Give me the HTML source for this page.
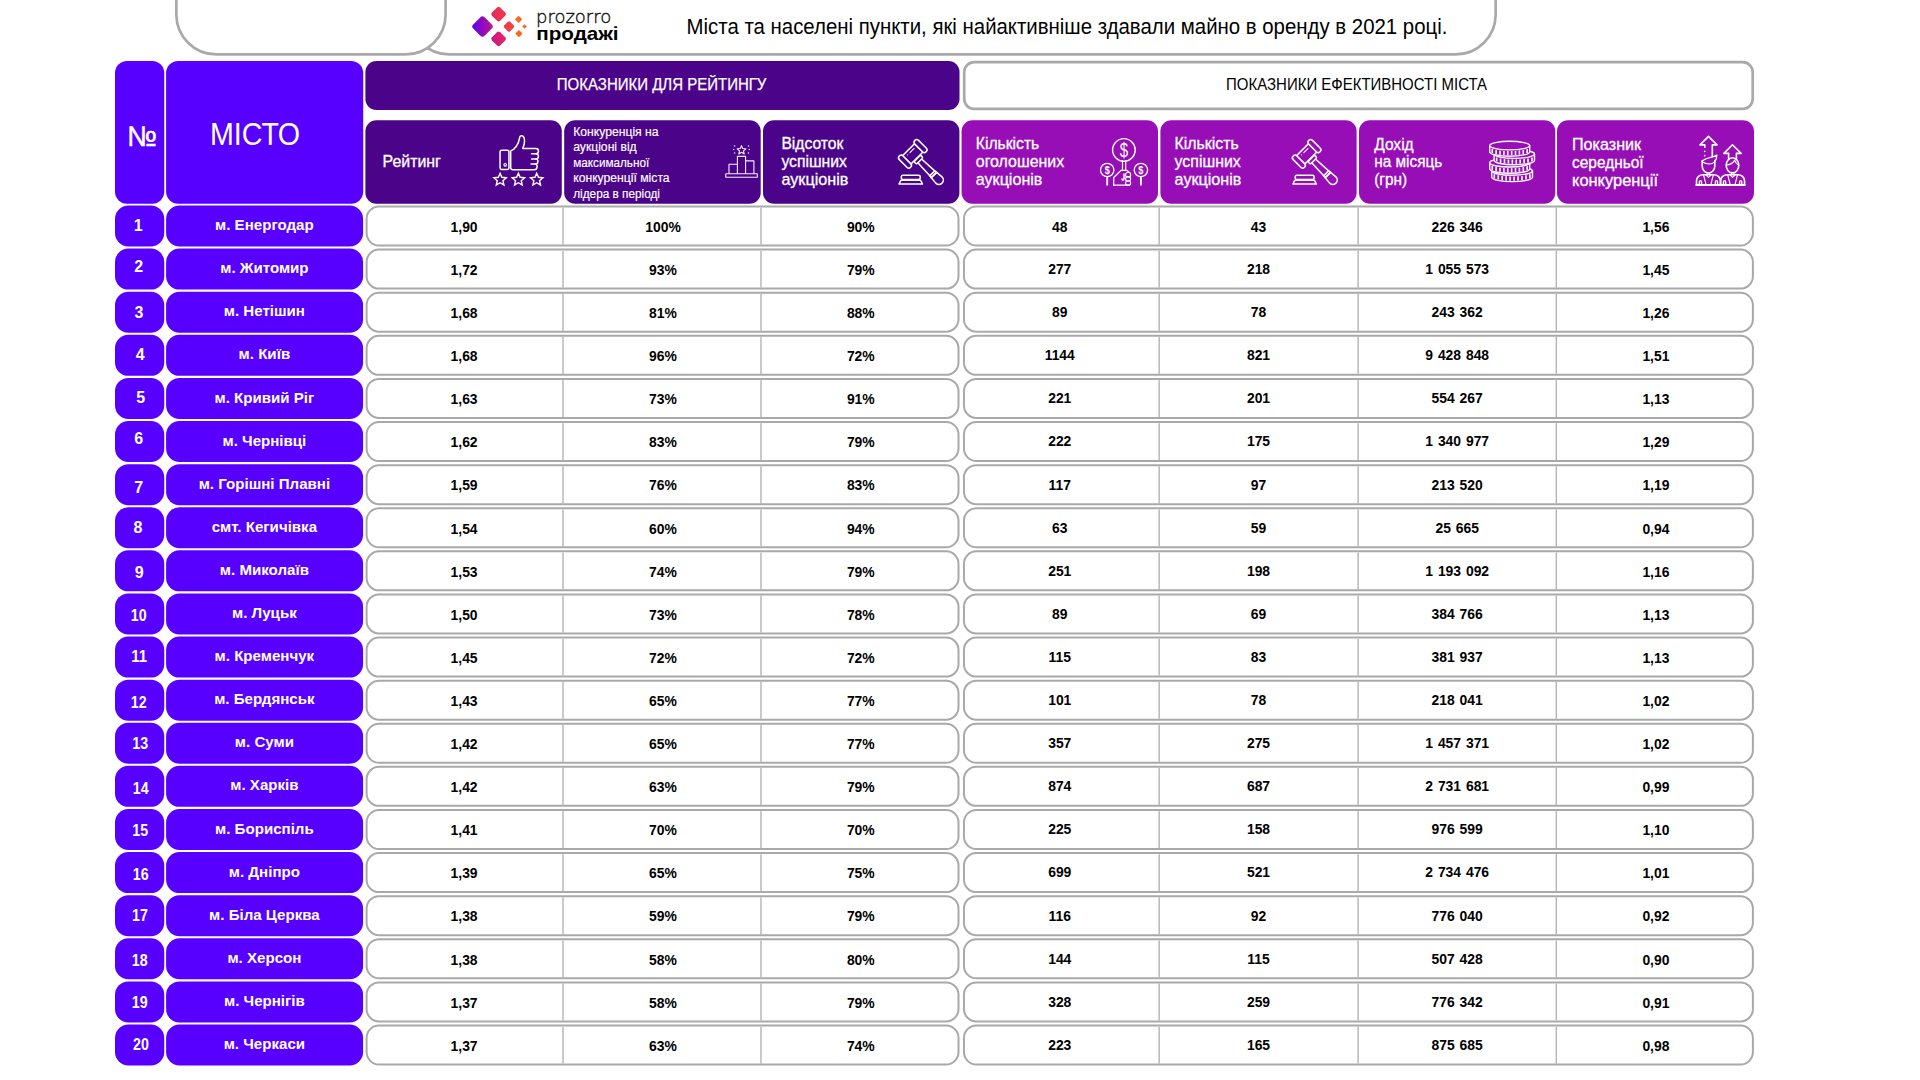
<!DOCTYPE html>
<html lang="uk"><head><meta charset="utf-8"><title>Prozorro</title>
<style>html,body{margin:0;padding:0;background:#fff;}body{width:1920px;height:1080px;overflow:hidden;position:relative}svg{position:absolute;left:0;top:0;display:block}text{white-space:pre}</style></head><body>
<svg width="1920" height="1080" viewBox="0 0 1920 1080">
<defs>
<linearGradient id="g1" x1="0" y1="1" x2="1" y2="0"><stop offset="0" stop-color="#5b00f0"/><stop offset="1" stop-color="#c4168c"/></linearGradient>
<linearGradient id="g2" x1="0" y1="1" x2="1" y2="0"><stop offset="0" stop-color="#e6255f"/><stop offset="1" stop-color="#f03c48"/></linearGradient>
<linearGradient id="g3" x1="0" y1="1" x2="1" y2="0"><stop offset="0" stop-color="#c4168c"/><stop offset="1" stop-color="#ea2a5a"/></linearGradient>
<linearGradient id="g4" x1="0" y1="1" x2="1" y2="0"><stop offset="0" stop-color="#ee3350"/><stop offset="1" stop-color="#f24a36"/></linearGradient>
</defs>
<rect x="409.4" y="-80" width="1086.25" height="134.45" rx="40" fill="#fff" stroke="#a9a9a9" stroke-width="2.7"/>
<rect x="176.35" y="-80" width="269.25" height="134.45" rx="40" fill="#fff" stroke="#a9a9a9" stroke-width="2.7"/>
<g id="logo">
<rect x="-8.06" y="-8.06" width="16.12" height="16.12" rx="3" fill="url(#g1)" transform="translate(482.5,26.5) rotate(45)"/>
<rect x="-5.80" y="-5.80" width="11.60" height="11.60" rx="2.2" fill="url(#g2)" transform="translate(498.6,14.1) rotate(45)"/>
<rect x="-5.80" y="-5.80" width="11.60" height="11.60" rx="2.2" fill="url(#g3)" transform="translate(498.6,38.9) rotate(45)"/>
<rect x="-4.10" y="-4.10" width="8.20" height="8.20" rx="1.6" fill="url(#g4)" transform="translate(509.0,26.5) rotate(45)"/>
<rect x="-2.62" y="-2.62" width="5.23" height="5.23" rx="0.8" fill="#f7691d" transform="translate(518.6,19.4) rotate(45)"/>
<rect x="-2.62" y="-2.62" width="5.23" height="5.23" rx="0.8" fill="#f7691d" transform="translate(518.9,33.6) rotate(45)"/>
<rect x="-1.70" y="-1.70" width="3.39" height="3.39" rx="0.5" fill="#f7691d" transform="translate(524.5,26.5) rotate(45)"/>
</g>
<text x="536.00" y="23.00" font-family="'DejaVu Sans Light', 'DejaVu Sans', sans-serif" font-size="18.2" font-weight="normal" fill="#111" text-anchor="start" textLength="75.20" lengthAdjust="spacingAndGlyphs" stroke="#111" stroke-width="0.4">prozorro</text>
<text x="536.30" y="39.90" font-family="'Liberation Sans', sans-serif" font-size="18.5" font-weight="bold" fill="#000" text-anchor="start" textLength="82.30" lengthAdjust="spacingAndGlyphs">продажі</text>
<text x="686.60" y="33.90" font-family="'Liberation Sans', sans-serif" font-size="21.4" font-weight="normal" fill="#000" text-anchor="start" textLength="760.80" lengthAdjust="spacingAndGlyphs">Міста та населені пункти, які найактивніше здавали майно в оренду в 2021 році.</text>
<rect x="115.00" y="61.00" width="49.25" height="142.75" rx="12" fill="#5800ff"/>
<rect x="166.10" y="61.00" width="197.10" height="142.75" rx="12" fill="#5800ff"/>
<text x="141.90" y="146.00" font-family="'Liberation Sans', sans-serif" font-size="28.5" font-weight="normal" fill="#fff" text-anchor="middle" textLength="29.80" lengthAdjust="spacingAndGlyphs" stroke="#fff" stroke-width="0.5">№</text>
<text x="255.00" y="144.70" font-family="'Liberation Sans', sans-serif" font-size="31.5" font-weight="normal" fill="#fff" text-anchor="middle" textLength="90.00" lengthAdjust="spacingAndGlyphs">МІСТО</text>
<rect x="365.40" y="61.00" width="594.10" height="49.00" rx="11" fill="#4b0489"/>
<text x="661.60" y="89.70" font-family="'Liberation Sans', sans-serif" font-size="16.6" font-weight="normal" fill="#fff" text-anchor="middle" textLength="209.60" lengthAdjust="spacingAndGlyphs" stroke="#fff" stroke-width="0.25">ПОКАЗНИКИ ДЛЯ РЕЙТИНГУ</text>
<rect x="964.20" y="62.20" width="788.50" height="46.70" rx="10" fill="#fff" stroke="#a9a9a9" stroke-width="2.7"/>
<text x="1356.60" y="89.90" font-family="'Liberation Sans', sans-serif" font-size="16.6" font-weight="normal" fill="#000" text-anchor="middle" textLength="261.00" lengthAdjust="spacingAndGlyphs">ПОКАЗНИКИ ЕФЕКТИВНОСТІ МІСТА</text>
<rect x="365.40" y="120.20" width="196.40" height="83.55" rx="11" fill="#4b0489"/>
<rect x="564.20" y="120.20" width="196.50" height="83.55" rx="11" fill="#4b0489"/>
<rect x="763.00" y="120.20" width="196.40" height="83.55" rx="11" fill="#4b0489"/>
<rect x="961.60" y="120.20" width="196.40" height="83.55" rx="11" fill="#970db6"/>
<rect x="1160.40" y="120.20" width="196.20" height="83.55" rx="11" fill="#970db6"/>
<rect x="1359.00" y="120.20" width="196.30" height="83.55" rx="11" fill="#970db6"/>
<rect x="1557.00" y="120.20" width="197.00" height="83.55" rx="11" fill="#970db6"/>
<text x="382.60" y="166.70" font-family="'Liberation Sans', sans-serif" font-size="16.3" font-weight="normal" fill="#fff" text-anchor="start" textLength="58.30" lengthAdjust="spacingAndGlyphs" stroke="#fff" stroke-width="0.3">Рейтинг</text>
<text x="573.20" y="135.90" font-family="'Liberation Sans', sans-serif" font-size="12.3" font-weight="normal" fill="#fff" text-anchor="start" textLength="85.40" lengthAdjust="spacingAndGlyphs" stroke="#fff" stroke-width="0.15">Конкуренція на</text>
<text x="573.20" y="151.40" font-family="'Liberation Sans', sans-serif" font-size="12.3" font-weight="normal" fill="#fff" text-anchor="start" textLength="63.50" lengthAdjust="spacingAndGlyphs" stroke="#fff" stroke-width="0.15">аукціоні від</text>
<text x="573.20" y="166.90" font-family="'Liberation Sans', sans-serif" font-size="12.3" font-weight="normal" fill="#fff" text-anchor="start" textLength="76.00" lengthAdjust="spacingAndGlyphs" stroke="#fff" stroke-width="0.15">максимальної</text>
<text x="573.20" y="182.40" font-family="'Liberation Sans', sans-serif" font-size="12.3" font-weight="normal" fill="#fff" text-anchor="start" textLength="96.40" lengthAdjust="spacingAndGlyphs" stroke="#fff" stroke-width="0.15">конкуренції міста</text>
<text x="573.20" y="197.90" font-family="'Liberation Sans', sans-serif" font-size="12.3" font-weight="normal" fill="#fff" text-anchor="start" textLength="86.80" lengthAdjust="spacingAndGlyphs" stroke="#fff" stroke-width="0.15">лідера в періоді</text>
<text x="781.40" y="148.50" font-family="'Liberation Sans', sans-serif" font-size="16.3" font-weight="normal" fill="#fff" text-anchor="start" textLength="62.00" lengthAdjust="spacingAndGlyphs" stroke="#fff" stroke-width="0.3">Відсоток</text>
<text x="781.40" y="166.60" font-family="'Liberation Sans', sans-serif" font-size="16.3" font-weight="normal" fill="#fff" text-anchor="start" textLength="65.60" lengthAdjust="spacingAndGlyphs" stroke="#fff" stroke-width="0.3">успішних</text>
<text x="781.40" y="184.60" font-family="'Liberation Sans', sans-serif" font-size="16.3" font-weight="normal" fill="#fff" text-anchor="start" textLength="67.00" lengthAdjust="spacingAndGlyphs" stroke="#fff" stroke-width="0.3">аукціонів</text>
<text x="975.80" y="148.50" font-family="'Liberation Sans', sans-serif" font-size="16.3" font-weight="normal" fill="#fff" text-anchor="start" textLength="63.50" lengthAdjust="spacingAndGlyphs" stroke="#fff" stroke-width="0.3">Кількість</text>
<text x="975.80" y="166.60" font-family="'Liberation Sans', sans-serif" font-size="16.3" font-weight="normal" fill="#fff" text-anchor="start" textLength="88.30" lengthAdjust="spacingAndGlyphs" stroke="#fff" stroke-width="0.3">оголошених</text>
<text x="975.80" y="184.60" font-family="'Liberation Sans', sans-serif" font-size="16.3" font-weight="normal" fill="#fff" text-anchor="start" textLength="66.60" lengthAdjust="spacingAndGlyphs" stroke="#fff" stroke-width="0.3">аукціонів</text>
<text x="1174.60" y="148.50" font-family="'Liberation Sans', sans-serif" font-size="16.3" font-weight="normal" fill="#fff" text-anchor="start" textLength="64.10" lengthAdjust="spacingAndGlyphs" stroke="#fff" stroke-width="0.3">Кількість</text>
<text x="1174.60" y="166.60" font-family="'Liberation Sans', sans-serif" font-size="16.3" font-weight="normal" fill="#fff" text-anchor="start" textLength="66.20" lengthAdjust="spacingAndGlyphs" stroke="#fff" stroke-width="0.3">успішних</text>
<text x="1174.60" y="184.60" font-family="'Liberation Sans', sans-serif" font-size="16.3" font-weight="normal" fill="#fff" text-anchor="start" textLength="66.80" lengthAdjust="spacingAndGlyphs" stroke="#fff" stroke-width="0.3">аукціонів</text>
<text x="1374.20" y="149.60" font-family="'Liberation Sans', sans-serif" font-size="16.3" font-weight="normal" fill="#fff" text-anchor="start" textLength="39.50" lengthAdjust="spacingAndGlyphs" stroke="#fff" stroke-width="0.3">Дохід</text>
<text x="1374.20" y="167.40" font-family="'Liberation Sans', sans-serif" font-size="16.3" font-weight="normal" fill="#fff" text-anchor="start" textLength="68.10" lengthAdjust="spacingAndGlyphs" stroke="#fff" stroke-width="0.3">на місяць</text>
<text x="1374.20" y="185.20" font-family="'Liberation Sans', sans-serif" font-size="16.3" font-weight="normal" fill="#fff" text-anchor="start" textLength="32.90" lengthAdjust="spacingAndGlyphs" stroke="#fff" stroke-width="0.3">(грн)</text>
<text x="1572.00" y="149.70" font-family="'Liberation Sans', sans-serif" font-size="16.3" font-weight="normal" fill="#fff" text-anchor="start" textLength="69.10" lengthAdjust="spacingAndGlyphs" stroke="#fff" stroke-width="0.3">Показник</text>
<text x="1572.00" y="167.70" font-family="'Liberation Sans', sans-serif" font-size="16.3" font-weight="normal" fill="#fff" text-anchor="start" textLength="71.60" lengthAdjust="spacingAndGlyphs" stroke="#fff" stroke-width="0.3">середньої</text>
<text x="1572.00" y="185.60" font-family="'Liberation Sans', sans-serif" font-size="16.3" font-weight="normal" fill="#fff" text-anchor="start" textLength="86.00" lengthAdjust="spacingAndGlyphs" stroke="#fff" stroke-width="0.3">конкуренції</text>
<g id="ic-thumb" fill="none" stroke="#fff" stroke-width="1.5" stroke-linejoin="round" stroke-linecap="round"><rect x="500.05" y="150.25" width="8.9" height="19.2" rx="1.6"/><circle cx="505.2" cy="164.8" r="1.3" stroke-width="1.1"/><path d="M510.7 150.9 C514.6 149.4 518.6 144.6 519.4 138.6 C519.7 136 521 135.5 522 135.8 C523.7 136.3 524.6 138.6 524.5 141.5 C524.4 144.4 523.4 146.8 522.7 148.6 H535.9 C539.3 148.6 539.3 153.7 535.9 153.7 C539.3 153.7 539.3 158.9 535.9 158.9 C538.7 158.9 538.7 164.1 535.3 164.1 C537.9 164.1 537.9 169.8 534.1 169.8 H513 C511.5 169.8 510.7 169 510.7 167.8 Z"/><path d="M535.9 153.7 H531.6 M535.9 158.9 H531.6 M535.3 164.1 H531"/><polygon points="500.10,173.25 501.86,177.32 506.28,177.74 502.95,180.68 503.92,185.01 500.10,182.75 496.28,185.01 497.25,180.68 493.92,177.74 498.34,177.32" stroke-width="1.4" stroke-linejoin="miter"/><polygon points="518.40,173.25 520.16,177.32 524.58,177.74 521.25,180.68 522.22,185.01 518.40,182.75 514.58,185.01 515.55,180.68 512.22,177.74 516.64,177.32" stroke-width="1.4" stroke-linejoin="miter"/><polygon points="536.70,173.25 538.46,177.32 542.88,177.74 539.55,180.68 540.52,185.01 536.70,182.75 532.88,185.01 533.85,180.68 530.52,177.74 534.94,177.32" stroke-width="1.4" stroke-linejoin="miter"/></g>
<g id="ic-podium" fill="none" stroke="#f6f0fa" stroke-width="1.1" stroke-linejoin="round"><rect x="725.7" y="173.8" width="31.6" height="3.5" rx="0.4"/><path d="M729 173.8 V164.2 H737.4 M737.4 173.8 V156.4 H745.6 V173.8 M745.6 160.9 H753.9 V173.8"/><polygon points="741.50,145.60 742.73,148.50 745.87,148.78 743.50,150.85 744.20,153.92 741.50,152.30 738.80,153.92 739.50,150.85 737.13,148.78 740.27,148.50" stroke-width="1.1"/><g fill="#efe6f6" stroke="none"><circle cx="734.6" cy="145.9" r="0.75"/><circle cx="733.7" cy="149.6" r="0.75"/><circle cx="734.6" cy="153.1" r="0.75"/><circle cx="748.5" cy="145.9" r="0.75"/><circle cx="749.3" cy="149.6" r="0.75"/><circle cx="748.5" cy="153.1" r="0.75"/></g></g>
<g id="ic-gavel1" fill="none" stroke="#fff" stroke-width="1.55" stroke-linejoin="round" stroke-linecap="round"><g transform="translate(912.75,153.85) rotate(45)"><path d="M9.5 -2.6 L27.6 -3.5 L27.6 3.5 L9.5 2.6 Z"/><path d="M27.6 -3.5 L30 -3.8 L30 3.8 L27.6 3.5"/><path d="M30 -3.8 L37 -4.4 A4.4 4.4 0 0 1 37 4.4 L30 3.8 Z"/><rect x="6.4" y="-4.8" width="3.6" height="9.6" rx="1.8" fill="#4b0489"/><rect x="-5.9" y="-8.6" width="11.8" height="17.2" fill="#4b0489"/><rect x="-8" y="-13.6" width="16" height="5.2" rx="2.6" fill="#4b0489"/><rect x="-8" y="8.4" width="16" height="5.2" rx="2.6" fill="#4b0489"/><path d="M-2.8 -4.8 V1.2" stroke-width="1"/><circle cx="-2.9" cy="4.3" r="0.55" fill="#fff" stroke="none"/></g><rect x="901.30" y="175.2" width="18.9" height="4.4" rx="1.6"/><path d="M899.00 184 L900.90 180.3 H920.60 L922.50 184 Z"/></g>
<g id="ic-money" fill="none" stroke="#fff" stroke-width="1.4" stroke-linejoin="round" stroke-linecap="round"><circle cx="1123.9" cy="149.95" r="11.3"/><path d="M1122.5 161.2 V170.2 M1125.7 161.2 V170.2" stroke-width="1.2"/><circle cx="1107.2" cy="170" r="6.7" stroke-width="1.3"/><circle cx="1140.9" cy="170" r="6.7" stroke-width="1.3"/><path d="M1107.2 176.8 V185.4 M1140.9 176.8 V185.4" stroke-width="1.9" stroke-linecap="butt"/><path d="M1113.7 185.2 V177.5 L1121 170.4 H1126.4 C1127.8 170.4 1128.2 172.3 1129.6 172.5" stroke-width="1.3"/><path d="M1113.7 185.2 H1129.5" stroke-width="1.3"/><path d="M1124 174 V178.8 C1124 180.6 1122.2 180.6 1122 178.9" stroke-width="1.5"/><rect x="1125.6" y="172.5" width="5.0" height="4.30" rx="1.9" stroke-width="1.2"/><rect x="1125.6" y="176.8" width="5.0" height="4.20" rx="1.9" stroke-width="1.2"/><rect x="1125.6" y="181.0" width="5.0" height="4.20" rx="1.9" stroke-width="1.2"/></g><g id="ic-money-t" font-family="'Liberation Sans', sans-serif" fill="#fff" text-anchor="middle"><text transform="translate(1123.9,156.6) scale(0.76,1)" font-size="19.8">$</text><text transform="translate(1107.2,174.0) scale(0.85,1)" font-size="10.8" font-weight="bold">$</text><text transform="translate(1140.9,174.0) scale(0.85,1)" font-size="10.8" font-weight="bold">$</text></g>
<g id="ic-gavel2" fill="none" stroke="#fff" stroke-width="1.55" stroke-linejoin="round" stroke-linecap="round"><g transform="translate(1306.65,153.85) rotate(45)"><path d="M9.5 -2.6 L27.6 -3.5 L27.6 3.5 L9.5 2.6 Z"/><path d="M27.6 -3.5 L30 -3.8 L30 3.8 L27.6 3.5"/><path d="M30 -3.8 L37 -4.4 A4.4 4.4 0 0 1 37 4.4 L30 3.8 Z"/><rect x="6.4" y="-4.8" width="3.6" height="9.6" rx="1.8" fill="#970db6"/><rect x="-5.9" y="-8.6" width="11.8" height="17.2" fill="#970db6"/><rect x="-8" y="-13.6" width="16" height="5.2" rx="2.6" fill="#970db6"/><rect x="-8" y="8.4" width="16" height="5.2" rx="2.6" fill="#970db6"/><path d="M-2.8 -4.8 V1.2" stroke-width="1"/><circle cx="-2.9" cy="4.3" r="0.55" fill="#fff" stroke="none"/></g><rect x="1295.20" y="175.2" width="18.9" height="4.4" rx="1.6"/><path d="M1292.90 184 L1294.80 180.3 H1314.50 L1316.40 184 Z"/></g>
<g id="ic-coins" fill="#970db6" stroke="#fff" stroke-width="1.4" stroke-linejoin="round"><path d="M1491.70 171.00 V177.30 A20.4 4.3 0 0 0 1532.50 177.30 V171.00 Z"/><ellipse cx="1512.1" cy="171.0" rx="20.4" ry="4.3"/><path d="M1494.29 174.30 V178.50 M1498.25 175.36 V179.56 M1502.21 175.96 V180.16 M1506.16 176.31 V180.51 M1510.12 176.48 V180.68 M1514.08 176.48 V180.68 M1518.04 176.31 V180.51 M1521.99 175.96 V180.16 M1525.95 175.36 V179.56 M1529.91 174.30 V178.50 " fill="none" stroke-width="1.6"/><path d="M1489.70 162.70 V169.00 A20.0 4.3 0 0 0 1529.70 169.00 V162.70 Z"/><ellipse cx="1509.7" cy="162.7" rx="20.0" ry="4.3"/><path d="M1492.24 166.00 V170.20 M1496.12 167.06 V171.26 M1500.00 167.66 V171.86 M1503.88 168.01 V172.21 M1507.76 168.18 V172.38 M1511.64 168.18 V172.38 M1515.52 168.01 V172.21 M1519.40 167.66 V171.86 M1523.28 167.06 V171.26 M1527.16 166.00 V170.20 " fill="none" stroke-width="1.6"/><path d="M1494.10 154.10 V160.40 A20.2 4.3 0 0 0 1534.50 160.40 V154.10 Z"/><ellipse cx="1514.3" cy="154.1" rx="20.2" ry="4.3"/><path d="M1496.67 157.40 V161.60 M1500.58 158.46 V162.66 M1504.50 159.06 V163.26 M1508.42 159.41 V163.61 M1512.34 159.58 V163.78 M1516.26 159.58 V163.78 M1520.18 159.41 V163.61 M1524.10 159.06 V163.26 M1528.02 158.46 V162.66 M1531.93 157.40 V161.60 " fill="none" stroke-width="1.6"/><path d="M1489.70 145.60 V151.90 A20.0 4.3 0 0 0 1529.70 151.90 V145.60 Z"/><ellipse cx="1509.7" cy="145.6" rx="20.0" ry="4.3"/><path d="M1492.24 148.90 V153.10 M1496.12 149.96 V154.16 M1500.00 150.56 V154.76 M1503.88 150.91 V155.11 M1507.76 151.08 V155.28 M1511.64 151.08 V155.28 M1515.52 150.91 V155.11 M1519.40 150.56 V154.76 M1523.28 149.96 V154.16 M1527.16 148.90 V153.10 " fill="none" stroke-width="1.6"/></g>
<g id="ic-people" fill="none" stroke="#fff" stroke-width="1.6" stroke-linejoin="round" stroke-linecap="round"><path d="M1696.3 185.1 H1744.7" stroke-width="2"/><path d="M1696.50 185 V180.8 C1696.50 177 1699.60 174.7 1703.00 174.7 H1713.80 C1717.20 174.7 1720.40 177 1720.40 180.8 V185"/><path d="M1699.30 184.4 V181.9 C1699.30 180.2 1701.50 180.2 1701.50 181.9 V184.4 M1715.40 184.4 V181.9 C1715.40 180.2 1717.60 180.2 1717.60 181.9 V184.4" stroke-width="1.4"/><path d="M1703.60 175 L1706.00 184.4 M1713.30 175 L1710.90 184.4 M1706.20 175.3 L1708.45 177.4 L1710.70 175.3 M1707.30 172.6 V175 M1709.70 172.6 V175" stroke-width="1.1"/><path d="M1720.65 185 V180.8 C1720.65 177 1723.75 174.7 1727.15 174.7 H1737.95 C1741.35 174.7 1744.55 177 1744.55 180.8 V185"/><path d="M1723.45 184.4 V181.9 C1723.45 180.2 1725.65 180.2 1725.65 181.9 V184.4 M1739.55 184.4 V181.9 C1739.55 180.2 1741.75 180.2 1741.75 181.9 V184.4" stroke-width="1.4"/><path d="M1727.75 175 L1730.15 184.4 M1737.45 175 L1735.05 184.4 M1730.35 175.3 L1732.60 177.4 L1734.85 175.3 M1731.45 172.6 V175 M1733.85 172.6 V175" stroke-width="1.1"/><path d="M1702.2 160.6 V166 C1702.2 170 1705 173 1708.5 173 C1712 173 1714.8 170 1714.8 166 V160.6"/><path d="M1702.1 161.8 C1704 157.6 1712 158.2 1716.9 155 C1716.9 160.5 1713.5 164 1709.5 164 C1706.5 164 1703.8 163 1702.1 161.8 Z" stroke-width="1.2"/><path d="M1712.3 156.6 V144.9 H1717 L1708.5 136.4 L1700 144.9 H1704.8 V147.2"/><circle cx="1704.7" cy="151.3" r="0.85" fill="#fff" stroke="none"/><circle cx="1704.7" cy="155.6" r="0.85" fill="#fff" stroke="none"/><ellipse cx="1732.5" cy="165.3" rx="6.3" ry="7.6"/><path d="M1726.3 165.1 C1730 164.8 1733.2 162.6 1734.7 160.1 C1735.3 162.2 1736.9 164.2 1738.6 165.2" stroke-width="1.2"/><path d="M1728.6 159 V153.4 H1723.9 L1732.5 144.8 L1741.1 153.4 H1736.4 V159"/></g>
<rect x="115.00" y="205.50" width="49.25" height="41.00" rx="13.4" fill="#5800ff"/>
<rect x="166.10" y="205.50" width="197.00" height="41.00" rx="13.4" fill="#5800ff"/>
<rect x="366.60" y="206.50" width="591.90" height="39.00" rx="12.4" fill="#fff" stroke="#a9a9a9" stroke-width="2.0"/>
<rect x="963.95" y="206.50" width="788.95" height="39.00" rx="12.4" fill="#fff" stroke="#a9a9a9" stroke-width="2.0"/>
<rect x="562.30" y="207.70" width="1.4" height="36.90" fill="#b4b4b4"/>
<rect x="760.30" y="207.70" width="1.4" height="36.90" fill="#b4b4b4"/>
<rect x="1158.50" y="207.70" width="1.4" height="36.90" fill="#b4b4b4"/>
<rect x="1357.40" y="207.70" width="1.4" height="36.90" fill="#b4b4b4"/>
<rect x="1555.60" y="207.70" width="1.4" height="36.90" fill="#b4b4b4"/>
<text x="138.25" y="231.15" font-family="'Liberation Sans', sans-serif" font-size="16" font-weight="bold" fill="#fff" text-anchor="middle">1</text>
<text x="264.40" y="230.10" font-family="'Liberation Sans', sans-serif" font-size="15.1" font-weight="bold" fill="#fff" text-anchor="middle">м. Енергодар</text>
<text x="464.10" y="231.80" font-family="'Liberation Sans', sans-serif" font-size="13.9" font-weight="bold" fill="#000" text-anchor="middle" word-spacing="1">1,90</text>
<text x="663.00" y="231.80" font-family="'Liberation Sans', sans-serif" font-size="13.9" font-weight="bold" fill="#000" text-anchor="middle" word-spacing="1">100%</text>
<text x="860.80" y="231.80" font-family="'Liberation Sans', sans-serif" font-size="13.9" font-weight="bold" fill="#000" text-anchor="middle" word-spacing="1">90%</text>
<text x="1059.75" y="231.80" font-family="'Liberation Sans', sans-serif" font-size="13.9" font-weight="bold" fill="#000" text-anchor="middle" word-spacing="1">48</text>
<text x="1258.50" y="231.80" font-family="'Liberation Sans', sans-serif" font-size="13.9" font-weight="bold" fill="#000" text-anchor="middle" word-spacing="1">43</text>
<text x="1457.20" y="231.80" font-family="'Liberation Sans', sans-serif" font-size="13.9" font-weight="bold" fill="#000" text-anchor="middle" word-spacing="1">226 346</text>
<text x="1655.90" y="231.80" font-family="'Liberation Sans', sans-serif" font-size="13.9" font-weight="bold" fill="#000" text-anchor="middle" word-spacing="1">1,56</text>
<rect x="115.00" y="248.60" width="49.25" height="41.00" rx="13.4" fill="#5800ff"/>
<rect x="166.10" y="248.60" width="197.00" height="41.00" rx="13.4" fill="#5800ff"/>
<rect x="366.60" y="249.60" width="591.90" height="39.00" rx="12.4" fill="#fff" stroke="#a9a9a9" stroke-width="2.0"/>
<rect x="963.95" y="249.60" width="788.95" height="39.00" rx="12.4" fill="#fff" stroke="#a9a9a9" stroke-width="2.0"/>
<rect x="562.30" y="250.80" width="1.4" height="36.90" fill="#b4b4b4"/>
<rect x="760.30" y="250.80" width="1.4" height="36.90" fill="#b4b4b4"/>
<rect x="1158.50" y="250.80" width="1.4" height="36.90" fill="#b4b4b4"/>
<rect x="1357.40" y="250.80" width="1.4" height="36.90" fill="#b4b4b4"/>
<rect x="1555.60" y="250.80" width="1.4" height="36.90" fill="#b4b4b4"/>
<text x="138.75" y="272.16" font-family="'Liberation Sans', sans-serif" font-size="16" font-weight="bold" fill="#fff" text-anchor="middle">2</text>
<text x="264.40" y="273.21" font-family="'Liberation Sans', sans-serif" font-size="15.1" font-weight="bold" fill="#fff" text-anchor="middle">м. Житомир</text>
<text x="464.10" y="274.90" font-family="'Liberation Sans', sans-serif" font-size="13.9" font-weight="bold" fill="#000" text-anchor="middle" word-spacing="1">1,72</text>
<text x="663.00" y="274.90" font-family="'Liberation Sans', sans-serif" font-size="13.9" font-weight="bold" fill="#000" text-anchor="middle" word-spacing="1">93%</text>
<text x="860.80" y="274.90" font-family="'Liberation Sans', sans-serif" font-size="13.9" font-weight="bold" fill="#000" text-anchor="middle" word-spacing="1">79%</text>
<text x="1059.75" y="274.00" font-family="'Liberation Sans', sans-serif" font-size="13.9" font-weight="bold" fill="#000" text-anchor="middle" word-spacing="1">277</text>
<text x="1258.50" y="274.00" font-family="'Liberation Sans', sans-serif" font-size="13.9" font-weight="bold" fill="#000" text-anchor="middle" word-spacing="1">218</text>
<text x="1457.20" y="274.00" font-family="'Liberation Sans', sans-serif" font-size="13.9" font-weight="bold" fill="#000" text-anchor="middle" word-spacing="1">1 055 573</text>
<text x="1655.90" y="274.90" font-family="'Liberation Sans', sans-serif" font-size="13.9" font-weight="bold" fill="#000" text-anchor="middle" word-spacing="1">1,45</text>
<rect x="115.00" y="291.71" width="49.25" height="41.00" rx="13.4" fill="#5800ff"/>
<rect x="166.10" y="291.71" width="197.00" height="41.00" rx="13.4" fill="#5800ff"/>
<rect x="366.60" y="292.71" width="591.90" height="39.00" rx="12.4" fill="#fff" stroke="#a9a9a9" stroke-width="2.0"/>
<rect x="963.95" y="292.71" width="788.95" height="39.00" rx="12.4" fill="#fff" stroke="#a9a9a9" stroke-width="2.0"/>
<rect x="562.30" y="293.91" width="1.4" height="36.90" fill="#b4b4b4"/>
<rect x="760.30" y="293.91" width="1.4" height="36.90" fill="#b4b4b4"/>
<rect x="1158.50" y="293.91" width="1.4" height="36.90" fill="#b4b4b4"/>
<rect x="1357.40" y="293.91" width="1.4" height="36.90" fill="#b4b4b4"/>
<rect x="1555.60" y="293.91" width="1.4" height="36.90" fill="#b4b4b4"/>
<text x="139.00" y="317.66" font-family="'Liberation Sans', sans-serif" font-size="16" font-weight="bold" fill="#fff" text-anchor="middle">3</text>
<text x="264.40" y="316.31" font-family="'Liberation Sans', sans-serif" font-size="15.1" font-weight="bold" fill="#fff" text-anchor="middle">м. Нетішин</text>
<text x="464.10" y="318.01" font-family="'Liberation Sans', sans-serif" font-size="13.9" font-weight="bold" fill="#000" text-anchor="middle" word-spacing="1">1,68</text>
<text x="663.00" y="318.01" font-family="'Liberation Sans', sans-serif" font-size="13.9" font-weight="bold" fill="#000" text-anchor="middle" word-spacing="1">81%</text>
<text x="860.80" y="318.01" font-family="'Liberation Sans', sans-serif" font-size="13.9" font-weight="bold" fill="#000" text-anchor="middle" word-spacing="1">88%</text>
<text x="1059.75" y="317.11" font-family="'Liberation Sans', sans-serif" font-size="13.9" font-weight="bold" fill="#000" text-anchor="middle" word-spacing="1">89</text>
<text x="1258.50" y="317.11" font-family="'Liberation Sans', sans-serif" font-size="13.9" font-weight="bold" fill="#000" text-anchor="middle" word-spacing="1">78</text>
<text x="1457.20" y="317.11" font-family="'Liberation Sans', sans-serif" font-size="13.9" font-weight="bold" fill="#000" text-anchor="middle" word-spacing="1">243 362</text>
<text x="1655.90" y="318.01" font-family="'Liberation Sans', sans-serif" font-size="13.9" font-weight="bold" fill="#000" text-anchor="middle" word-spacing="1">1,26</text>
<rect x="115.00" y="334.81" width="49.25" height="41.00" rx="13.4" fill="#5800ff"/>
<rect x="166.10" y="334.81" width="197.00" height="41.00" rx="13.4" fill="#5800ff"/>
<rect x="366.60" y="335.81" width="591.90" height="39.00" rx="12.4" fill="#fff" stroke="#a9a9a9" stroke-width="2.0"/>
<rect x="963.95" y="335.81" width="788.95" height="39.00" rx="12.4" fill="#fff" stroke="#a9a9a9" stroke-width="2.0"/>
<rect x="562.30" y="337.01" width="1.4" height="36.90" fill="#b4b4b4"/>
<rect x="760.30" y="337.01" width="1.4" height="36.90" fill="#b4b4b4"/>
<rect x="1158.50" y="337.01" width="1.4" height="36.90" fill="#b4b4b4"/>
<rect x="1357.40" y="337.01" width="1.4" height="36.90" fill="#b4b4b4"/>
<rect x="1555.60" y="337.01" width="1.4" height="36.90" fill="#b4b4b4"/>
<text x="140.25" y="360.17" font-family="'Liberation Sans', sans-serif" font-size="16" font-weight="bold" fill="#fff" text-anchor="middle">4</text>
<text x="264.40" y="359.42" font-family="'Liberation Sans', sans-serif" font-size="15.1" font-weight="bold" fill="#fff" text-anchor="middle">м. Київ</text>
<text x="464.10" y="361.11" font-family="'Liberation Sans', sans-serif" font-size="13.9" font-weight="bold" fill="#000" text-anchor="middle" word-spacing="1">1,68</text>
<text x="663.00" y="361.11" font-family="'Liberation Sans', sans-serif" font-size="13.9" font-weight="bold" fill="#000" text-anchor="middle" word-spacing="1">96%</text>
<text x="860.80" y="361.11" font-family="'Liberation Sans', sans-serif" font-size="13.9" font-weight="bold" fill="#000" text-anchor="middle" word-spacing="1">72%</text>
<text x="1059.75" y="360.21" font-family="'Liberation Sans', sans-serif" font-size="13.9" font-weight="bold" fill="#000" text-anchor="middle" word-spacing="1">1144</text>
<text x="1258.50" y="360.21" font-family="'Liberation Sans', sans-serif" font-size="13.9" font-weight="bold" fill="#000" text-anchor="middle" word-spacing="1">821</text>
<text x="1457.20" y="360.21" font-family="'Liberation Sans', sans-serif" font-size="13.9" font-weight="bold" fill="#000" text-anchor="middle" word-spacing="1">9 428 848</text>
<text x="1655.90" y="361.11" font-family="'Liberation Sans', sans-serif" font-size="13.9" font-weight="bold" fill="#000" text-anchor="middle" word-spacing="1">1,51</text>
<rect x="115.00" y="377.92" width="49.25" height="41.00" rx="13.4" fill="#5800ff"/>
<rect x="166.10" y="377.92" width="197.00" height="41.00" rx="13.4" fill="#5800ff"/>
<rect x="366.60" y="378.92" width="591.90" height="39.00" rx="12.4" fill="#fff" stroke="#a9a9a9" stroke-width="2.0"/>
<rect x="963.95" y="378.92" width="788.95" height="39.00" rx="12.4" fill="#fff" stroke="#a9a9a9" stroke-width="2.0"/>
<rect x="562.30" y="380.12" width="1.4" height="36.90" fill="#b4b4b4"/>
<rect x="760.30" y="380.12" width="1.4" height="36.90" fill="#b4b4b4"/>
<rect x="1158.50" y="380.12" width="1.4" height="36.90" fill="#b4b4b4"/>
<rect x="1357.40" y="380.12" width="1.4" height="36.90" fill="#b4b4b4"/>
<rect x="1555.60" y="380.12" width="1.4" height="36.90" fill="#b4b4b4"/>
<text x="140.75" y="402.67" font-family="'Liberation Sans', sans-serif" font-size="16" font-weight="bold" fill="#fff" text-anchor="middle">5</text>
<text x="264.40" y="402.52" font-family="'Liberation Sans', sans-serif" font-size="15.1" font-weight="bold" fill="#fff" text-anchor="middle">м. Кривий Ріг</text>
<text x="464.10" y="404.22" font-family="'Liberation Sans', sans-serif" font-size="13.9" font-weight="bold" fill="#000" text-anchor="middle" word-spacing="1">1,63</text>
<text x="663.00" y="404.22" font-family="'Liberation Sans', sans-serif" font-size="13.9" font-weight="bold" fill="#000" text-anchor="middle" word-spacing="1">73%</text>
<text x="860.80" y="404.22" font-family="'Liberation Sans', sans-serif" font-size="13.9" font-weight="bold" fill="#000" text-anchor="middle" word-spacing="1">91%</text>
<text x="1059.75" y="403.32" font-family="'Liberation Sans', sans-serif" font-size="13.9" font-weight="bold" fill="#000" text-anchor="middle" word-spacing="1">221</text>
<text x="1258.50" y="403.32" font-family="'Liberation Sans', sans-serif" font-size="13.9" font-weight="bold" fill="#000" text-anchor="middle" word-spacing="1">201</text>
<text x="1457.20" y="403.32" font-family="'Liberation Sans', sans-serif" font-size="13.9" font-weight="bold" fill="#000" text-anchor="middle" word-spacing="1">554 267</text>
<text x="1655.90" y="404.22" font-family="'Liberation Sans', sans-serif" font-size="13.9" font-weight="bold" fill="#000" text-anchor="middle" word-spacing="1">1,13</text>
<rect x="115.00" y="421.02" width="49.25" height="41.00" rx="13.4" fill="#5800ff"/>
<rect x="166.10" y="421.02" width="197.00" height="41.00" rx="13.4" fill="#5800ff"/>
<rect x="366.60" y="422.02" width="591.90" height="39.00" rx="12.4" fill="#fff" stroke="#a9a9a9" stroke-width="2.0"/>
<rect x="963.95" y="422.02" width="788.95" height="39.00" rx="12.4" fill="#fff" stroke="#a9a9a9" stroke-width="2.0"/>
<rect x="562.30" y="423.22" width="1.4" height="36.90" fill="#b4b4b4"/>
<rect x="760.30" y="423.22" width="1.4" height="36.90" fill="#b4b4b4"/>
<rect x="1158.50" y="423.22" width="1.4" height="36.90" fill="#b4b4b4"/>
<rect x="1357.40" y="423.22" width="1.4" height="36.90" fill="#b4b4b4"/>
<rect x="1555.60" y="423.22" width="1.4" height="36.90" fill="#b4b4b4"/>
<text x="138.75" y="443.88" font-family="'Liberation Sans', sans-serif" font-size="16" font-weight="bold" fill="#fff" text-anchor="middle">6</text>
<text x="264.40" y="445.62" font-family="'Liberation Sans', sans-serif" font-size="15.1" font-weight="bold" fill="#fff" text-anchor="middle">м. Чернівці</text>
<text x="464.10" y="447.32" font-family="'Liberation Sans', sans-serif" font-size="13.9" font-weight="bold" fill="#000" text-anchor="middle" word-spacing="1">1,62</text>
<text x="663.00" y="447.32" font-family="'Liberation Sans', sans-serif" font-size="13.9" font-weight="bold" fill="#000" text-anchor="middle" word-spacing="1">83%</text>
<text x="860.80" y="447.32" font-family="'Liberation Sans', sans-serif" font-size="13.9" font-weight="bold" fill="#000" text-anchor="middle" word-spacing="1">79%</text>
<text x="1059.75" y="446.42" font-family="'Liberation Sans', sans-serif" font-size="13.9" font-weight="bold" fill="#000" text-anchor="middle" word-spacing="1">222</text>
<text x="1258.50" y="446.42" font-family="'Liberation Sans', sans-serif" font-size="13.9" font-weight="bold" fill="#000" text-anchor="middle" word-spacing="1">175</text>
<text x="1457.20" y="446.42" font-family="'Liberation Sans', sans-serif" font-size="13.9" font-weight="bold" fill="#000" text-anchor="middle" word-spacing="1">1 340 977</text>
<text x="1655.90" y="447.32" font-family="'Liberation Sans', sans-serif" font-size="13.9" font-weight="bold" fill="#000" text-anchor="middle" word-spacing="1">1,29</text>
<rect x="115.00" y="464.13" width="49.25" height="41.00" rx="13.4" fill="#5800ff"/>
<rect x="166.10" y="464.13" width="197.00" height="41.00" rx="13.4" fill="#5800ff"/>
<rect x="366.60" y="465.13" width="591.90" height="39.00" rx="12.4" fill="#fff" stroke="#a9a9a9" stroke-width="2.0"/>
<rect x="963.95" y="465.13" width="788.95" height="39.00" rx="12.4" fill="#fff" stroke="#a9a9a9" stroke-width="2.0"/>
<rect x="562.30" y="466.33" width="1.4" height="36.90" fill="#b4b4b4"/>
<rect x="760.30" y="466.33" width="1.4" height="36.90" fill="#b4b4b4"/>
<rect x="1158.50" y="466.33" width="1.4" height="36.90" fill="#b4b4b4"/>
<rect x="1357.40" y="466.33" width="1.4" height="36.90" fill="#b4b4b4"/>
<rect x="1555.60" y="466.33" width="1.4" height="36.90" fill="#b4b4b4"/>
<text x="138.75" y="492.68" font-family="'Liberation Sans', sans-serif" font-size="16" font-weight="bold" fill="#fff" text-anchor="middle">7</text>
<text x="264.40" y="488.73" font-family="'Liberation Sans', sans-serif" font-size="15.1" font-weight="bold" fill="#fff" text-anchor="middle">м. Горішні Плавні</text>
<text x="464.10" y="490.43" font-family="'Liberation Sans', sans-serif" font-size="13.9" font-weight="bold" fill="#000" text-anchor="middle" word-spacing="1">1,59</text>
<text x="663.00" y="490.43" font-family="'Liberation Sans', sans-serif" font-size="13.9" font-weight="bold" fill="#000" text-anchor="middle" word-spacing="1">76%</text>
<text x="860.80" y="490.43" font-family="'Liberation Sans', sans-serif" font-size="13.9" font-weight="bold" fill="#000" text-anchor="middle" word-spacing="1">83%</text>
<text x="1059.75" y="489.53" font-family="'Liberation Sans', sans-serif" font-size="13.9" font-weight="bold" fill="#000" text-anchor="middle" word-spacing="1">117</text>
<text x="1258.50" y="489.53" font-family="'Liberation Sans', sans-serif" font-size="13.9" font-weight="bold" fill="#000" text-anchor="middle" word-spacing="1">97</text>
<text x="1457.20" y="489.53" font-family="'Liberation Sans', sans-serif" font-size="13.9" font-weight="bold" fill="#000" text-anchor="middle" word-spacing="1">213 520</text>
<text x="1655.90" y="490.43" font-family="'Liberation Sans', sans-serif" font-size="13.9" font-weight="bold" fill="#000" text-anchor="middle" word-spacing="1">1,19</text>
<rect x="115.00" y="507.23" width="49.25" height="41.00" rx="13.4" fill="#5800ff"/>
<rect x="166.10" y="507.23" width="197.00" height="41.00" rx="13.4" fill="#5800ff"/>
<rect x="366.60" y="508.23" width="591.90" height="39.00" rx="12.4" fill="#fff" stroke="#a9a9a9" stroke-width="2.0"/>
<rect x="963.95" y="508.23" width="788.95" height="39.00" rx="12.4" fill="#fff" stroke="#a9a9a9" stroke-width="2.0"/>
<rect x="562.30" y="509.43" width="1.4" height="36.90" fill="#b4b4b4"/>
<rect x="760.30" y="509.43" width="1.4" height="36.90" fill="#b4b4b4"/>
<rect x="1158.50" y="509.43" width="1.4" height="36.90" fill="#b4b4b4"/>
<rect x="1357.40" y="509.43" width="1.4" height="36.90" fill="#b4b4b4"/>
<rect x="1555.60" y="509.43" width="1.4" height="36.90" fill="#b4b4b4"/>
<text x="138.00" y="533.18" font-family="'Liberation Sans', sans-serif" font-size="16" font-weight="bold" fill="#fff" text-anchor="middle">8</text>
<text x="264.40" y="531.83" font-family="'Liberation Sans', sans-serif" font-size="15.1" font-weight="bold" fill="#fff" text-anchor="middle">смт. Кегичівка</text>
<text x="464.10" y="533.53" font-family="'Liberation Sans', sans-serif" font-size="13.9" font-weight="bold" fill="#000" text-anchor="middle" word-spacing="1">1,54</text>
<text x="663.00" y="533.53" font-family="'Liberation Sans', sans-serif" font-size="13.9" font-weight="bold" fill="#000" text-anchor="middle" word-spacing="1">60%</text>
<text x="860.80" y="533.53" font-family="'Liberation Sans', sans-serif" font-size="13.9" font-weight="bold" fill="#000" text-anchor="middle" word-spacing="1">94%</text>
<text x="1059.75" y="532.63" font-family="'Liberation Sans', sans-serif" font-size="13.9" font-weight="bold" fill="#000" text-anchor="middle" word-spacing="1">63</text>
<text x="1258.50" y="532.63" font-family="'Liberation Sans', sans-serif" font-size="13.9" font-weight="bold" fill="#000" text-anchor="middle" word-spacing="1">59</text>
<text x="1457.20" y="532.63" font-family="'Liberation Sans', sans-serif" font-size="13.9" font-weight="bold" fill="#000" text-anchor="middle" word-spacing="1">25 665</text>
<text x="1655.90" y="533.53" font-family="'Liberation Sans', sans-serif" font-size="13.9" font-weight="bold" fill="#000" text-anchor="middle" word-spacing="1">0,94</text>
<rect x="115.00" y="550.34" width="49.25" height="41.00" rx="13.4" fill="#5800ff"/>
<rect x="166.10" y="550.34" width="197.00" height="41.00" rx="13.4" fill="#5800ff"/>
<rect x="366.60" y="551.34" width="591.90" height="39.00" rx="12.4" fill="#fff" stroke="#a9a9a9" stroke-width="2.0"/>
<rect x="963.95" y="551.34" width="788.95" height="39.00" rx="12.4" fill="#fff" stroke="#a9a9a9" stroke-width="2.0"/>
<rect x="562.30" y="552.54" width="1.4" height="36.90" fill="#b4b4b4"/>
<rect x="760.30" y="552.54" width="1.4" height="36.90" fill="#b4b4b4"/>
<rect x="1158.50" y="552.54" width="1.4" height="36.90" fill="#b4b4b4"/>
<rect x="1357.40" y="552.54" width="1.4" height="36.90" fill="#b4b4b4"/>
<rect x="1555.60" y="552.54" width="1.4" height="36.90" fill="#b4b4b4"/>
<text x="139.25" y="577.69" font-family="'Liberation Sans', sans-serif" font-size="16" font-weight="bold" fill="#fff" text-anchor="middle">9</text>
<text x="264.40" y="574.94" font-family="'Liberation Sans', sans-serif" font-size="15.1" font-weight="bold" fill="#fff" text-anchor="middle">м. Миколаїв</text>
<text x="464.10" y="576.64" font-family="'Liberation Sans', sans-serif" font-size="13.9" font-weight="bold" fill="#000" text-anchor="middle" word-spacing="1">1,53</text>
<text x="663.00" y="576.64" font-family="'Liberation Sans', sans-serif" font-size="13.9" font-weight="bold" fill="#000" text-anchor="middle" word-spacing="1">74%</text>
<text x="860.80" y="576.64" font-family="'Liberation Sans', sans-serif" font-size="13.9" font-weight="bold" fill="#000" text-anchor="middle" word-spacing="1">79%</text>
<text x="1059.75" y="575.74" font-family="'Liberation Sans', sans-serif" font-size="13.9" font-weight="bold" fill="#000" text-anchor="middle" word-spacing="1">251</text>
<text x="1258.50" y="575.74" font-family="'Liberation Sans', sans-serif" font-size="13.9" font-weight="bold" fill="#000" text-anchor="middle" word-spacing="1">198</text>
<text x="1457.20" y="575.74" font-family="'Liberation Sans', sans-serif" font-size="13.9" font-weight="bold" fill="#000" text-anchor="middle" word-spacing="1">1 193 092</text>
<text x="1655.90" y="576.64" font-family="'Liberation Sans', sans-serif" font-size="13.9" font-weight="bold" fill="#000" text-anchor="middle" word-spacing="1">1,16</text>
<rect x="115.00" y="593.44" width="49.25" height="41.00" rx="13.4" fill="#5800ff"/>
<rect x="166.10" y="593.44" width="197.00" height="41.00" rx="13.4" fill="#5800ff"/>
<rect x="366.60" y="594.44" width="591.90" height="39.00" rx="12.4" fill="#fff" stroke="#a9a9a9" stroke-width="2.0"/>
<rect x="963.95" y="594.44" width="788.95" height="39.00" rx="12.4" fill="#fff" stroke="#a9a9a9" stroke-width="2.0"/>
<rect x="562.30" y="595.64" width="1.4" height="36.90" fill="#b4b4b4"/>
<rect x="760.30" y="595.64" width="1.4" height="36.90" fill="#b4b4b4"/>
<rect x="1158.50" y="595.64" width="1.4" height="36.90" fill="#b4b4b4"/>
<rect x="1357.40" y="595.64" width="1.4" height="36.90" fill="#b4b4b4"/>
<rect x="1555.60" y="595.64" width="1.4" height="36.90" fill="#b4b4b4"/>
<text x="138.75" y="620.89" font-family="'Liberation Sans', sans-serif" font-size="16" font-weight="bold" fill="#fff" text-anchor="middle" textLength="15.80" lengthAdjust="spacingAndGlyphs">10</text>
<text x="264.40" y="618.04" font-family="'Liberation Sans', sans-serif" font-size="15.1" font-weight="bold" fill="#fff" text-anchor="middle">м. Луцьк</text>
<text x="464.10" y="619.74" font-family="'Liberation Sans', sans-serif" font-size="13.9" font-weight="bold" fill="#000" text-anchor="middle" word-spacing="1">1,50</text>
<text x="663.00" y="619.74" font-family="'Liberation Sans', sans-serif" font-size="13.9" font-weight="bold" fill="#000" text-anchor="middle" word-spacing="1">73%</text>
<text x="860.80" y="619.74" font-family="'Liberation Sans', sans-serif" font-size="13.9" font-weight="bold" fill="#000" text-anchor="middle" word-spacing="1">78%</text>
<text x="1059.75" y="618.84" font-family="'Liberation Sans', sans-serif" font-size="13.9" font-weight="bold" fill="#000" text-anchor="middle" word-spacing="1">89</text>
<text x="1258.50" y="618.84" font-family="'Liberation Sans', sans-serif" font-size="13.9" font-weight="bold" fill="#000" text-anchor="middle" word-spacing="1">69</text>
<text x="1457.20" y="618.84" font-family="'Liberation Sans', sans-serif" font-size="13.9" font-weight="bold" fill="#000" text-anchor="middle" word-spacing="1">384 766</text>
<text x="1655.90" y="619.74" font-family="'Liberation Sans', sans-serif" font-size="13.9" font-weight="bold" fill="#000" text-anchor="middle" word-spacing="1">1,13</text>
<rect x="115.00" y="636.55" width="49.25" height="41.00" rx="13.4" fill="#5800ff"/>
<rect x="166.10" y="636.55" width="197.00" height="41.00" rx="13.4" fill="#5800ff"/>
<rect x="366.60" y="637.55" width="591.90" height="39.00" rx="12.4" fill="#fff" stroke="#a9a9a9" stroke-width="2.0"/>
<rect x="963.95" y="637.55" width="788.95" height="39.00" rx="12.4" fill="#fff" stroke="#a9a9a9" stroke-width="2.0"/>
<rect x="562.30" y="638.75" width="1.4" height="36.90" fill="#b4b4b4"/>
<rect x="760.30" y="638.75" width="1.4" height="36.90" fill="#b4b4b4"/>
<rect x="1158.50" y="638.75" width="1.4" height="36.90" fill="#b4b4b4"/>
<rect x="1357.40" y="638.75" width="1.4" height="36.90" fill="#b4b4b4"/>
<rect x="1555.60" y="638.75" width="1.4" height="36.90" fill="#b4b4b4"/>
<text x="139.25" y="662.20" font-family="'Liberation Sans', sans-serif" font-size="16" font-weight="bold" fill="#fff" text-anchor="middle" textLength="15.80" lengthAdjust="spacingAndGlyphs">11</text>
<text x="264.40" y="661.15" font-family="'Liberation Sans', sans-serif" font-size="15.1" font-weight="bold" fill="#fff" text-anchor="middle">м. Кременчук</text>
<text x="464.10" y="662.85" font-family="'Liberation Sans', sans-serif" font-size="13.9" font-weight="bold" fill="#000" text-anchor="middle" word-spacing="1">1,45</text>
<text x="663.00" y="662.85" font-family="'Liberation Sans', sans-serif" font-size="13.9" font-weight="bold" fill="#000" text-anchor="middle" word-spacing="1">72%</text>
<text x="860.80" y="662.85" font-family="'Liberation Sans', sans-serif" font-size="13.9" font-weight="bold" fill="#000" text-anchor="middle" word-spacing="1">72%</text>
<text x="1059.75" y="661.95" font-family="'Liberation Sans', sans-serif" font-size="13.9" font-weight="bold" fill="#000" text-anchor="middle" word-spacing="1">115</text>
<text x="1258.50" y="661.95" font-family="'Liberation Sans', sans-serif" font-size="13.9" font-weight="bold" fill="#000" text-anchor="middle" word-spacing="1">83</text>
<text x="1457.20" y="661.95" font-family="'Liberation Sans', sans-serif" font-size="13.9" font-weight="bold" fill="#000" text-anchor="middle" word-spacing="1">381 937</text>
<text x="1655.90" y="662.85" font-family="'Liberation Sans', sans-serif" font-size="13.9" font-weight="bold" fill="#000" text-anchor="middle" word-spacing="1">1,13</text>
<rect x="115.00" y="679.65" width="49.25" height="41.00" rx="13.4" fill="#5800ff"/>
<rect x="166.10" y="679.65" width="197.00" height="41.00" rx="13.4" fill="#5800ff"/>
<rect x="366.60" y="680.65" width="591.90" height="39.00" rx="12.4" fill="#fff" stroke="#a9a9a9" stroke-width="2.0"/>
<rect x="963.95" y="680.65" width="788.95" height="39.00" rx="12.4" fill="#fff" stroke="#a9a9a9" stroke-width="2.0"/>
<rect x="562.30" y="681.86" width="1.4" height="36.90" fill="#b4b4b4"/>
<rect x="760.30" y="681.86" width="1.4" height="36.90" fill="#b4b4b4"/>
<rect x="1158.50" y="681.86" width="1.4" height="36.90" fill="#b4b4b4"/>
<rect x="1357.40" y="681.86" width="1.4" height="36.90" fill="#b4b4b4"/>
<rect x="1555.60" y="681.86" width="1.4" height="36.90" fill="#b4b4b4"/>
<text x="138.75" y="708.20" font-family="'Liberation Sans', sans-serif" font-size="16" font-weight="bold" fill="#fff" text-anchor="middle" textLength="15.80" lengthAdjust="spacingAndGlyphs">12</text>
<text x="264.40" y="704.25" font-family="'Liberation Sans', sans-serif" font-size="15.1" font-weight="bold" fill="#fff" text-anchor="middle">м. Бердянськ</text>
<text x="464.10" y="705.95" font-family="'Liberation Sans', sans-serif" font-size="13.9" font-weight="bold" fill="#000" text-anchor="middle" word-spacing="1">1,43</text>
<text x="663.00" y="705.95" font-family="'Liberation Sans', sans-serif" font-size="13.9" font-weight="bold" fill="#000" text-anchor="middle" word-spacing="1">65%</text>
<text x="860.80" y="705.95" font-family="'Liberation Sans', sans-serif" font-size="13.9" font-weight="bold" fill="#000" text-anchor="middle" word-spacing="1">77%</text>
<text x="1059.75" y="705.05" font-family="'Liberation Sans', sans-serif" font-size="13.9" font-weight="bold" fill="#000" text-anchor="middle" word-spacing="1">101</text>
<text x="1258.50" y="705.05" font-family="'Liberation Sans', sans-serif" font-size="13.9" font-weight="bold" fill="#000" text-anchor="middle" word-spacing="1">78</text>
<text x="1457.20" y="705.05" font-family="'Liberation Sans', sans-serif" font-size="13.9" font-weight="bold" fill="#000" text-anchor="middle" word-spacing="1">218 041</text>
<text x="1655.90" y="705.95" font-family="'Liberation Sans', sans-serif" font-size="13.9" font-weight="bold" fill="#000" text-anchor="middle" word-spacing="1">1,02</text>
<rect x="115.00" y="722.76" width="49.25" height="41.00" rx="13.4" fill="#5800ff"/>
<rect x="166.10" y="722.76" width="197.00" height="41.00" rx="13.4" fill="#5800ff"/>
<rect x="366.60" y="723.76" width="591.90" height="39.00" rx="12.4" fill="#fff" stroke="#a9a9a9" stroke-width="2.0"/>
<rect x="963.95" y="723.76" width="788.95" height="39.00" rx="12.4" fill="#fff" stroke="#a9a9a9" stroke-width="2.0"/>
<rect x="562.30" y="724.96" width="1.4" height="36.90" fill="#b4b4b4"/>
<rect x="760.30" y="724.96" width="1.4" height="36.90" fill="#b4b4b4"/>
<rect x="1158.50" y="724.96" width="1.4" height="36.90" fill="#b4b4b4"/>
<rect x="1357.40" y="724.96" width="1.4" height="36.90" fill="#b4b4b4"/>
<rect x="1555.60" y="724.96" width="1.4" height="36.90" fill="#b4b4b4"/>
<text x="140.25" y="749.21" font-family="'Liberation Sans', sans-serif" font-size="16" font-weight="bold" fill="#fff" text-anchor="middle" textLength="15.80" lengthAdjust="spacingAndGlyphs">13</text>
<text x="264.40" y="747.36" font-family="'Liberation Sans', sans-serif" font-size="15.1" font-weight="bold" fill="#fff" text-anchor="middle">м. Суми</text>
<text x="464.10" y="749.06" font-family="'Liberation Sans', sans-serif" font-size="13.9" font-weight="bold" fill="#000" text-anchor="middle" word-spacing="1">1,42</text>
<text x="663.00" y="749.06" font-family="'Liberation Sans', sans-serif" font-size="13.9" font-weight="bold" fill="#000" text-anchor="middle" word-spacing="1">65%</text>
<text x="860.80" y="749.06" font-family="'Liberation Sans', sans-serif" font-size="13.9" font-weight="bold" fill="#000" text-anchor="middle" word-spacing="1">77%</text>
<text x="1059.75" y="748.16" font-family="'Liberation Sans', sans-serif" font-size="13.9" font-weight="bold" fill="#000" text-anchor="middle" word-spacing="1">357</text>
<text x="1258.50" y="748.16" font-family="'Liberation Sans', sans-serif" font-size="13.9" font-weight="bold" fill="#000" text-anchor="middle" word-spacing="1">275</text>
<text x="1457.20" y="748.16" font-family="'Liberation Sans', sans-serif" font-size="13.9" font-weight="bold" fill="#000" text-anchor="middle" word-spacing="1">1 457 371</text>
<text x="1655.90" y="749.06" font-family="'Liberation Sans', sans-serif" font-size="13.9" font-weight="bold" fill="#000" text-anchor="middle" word-spacing="1">1,02</text>
<rect x="115.00" y="765.87" width="49.25" height="41.00" rx="13.4" fill="#5800ff"/>
<rect x="166.10" y="765.87" width="197.00" height="41.00" rx="13.4" fill="#5800ff"/>
<rect x="366.60" y="766.87" width="591.90" height="39.00" rx="12.4" fill="#fff" stroke="#a9a9a9" stroke-width="2.0"/>
<rect x="963.95" y="766.87" width="788.95" height="39.00" rx="12.4" fill="#fff" stroke="#a9a9a9" stroke-width="2.0"/>
<rect x="562.30" y="768.07" width="1.4" height="36.90" fill="#b4b4b4"/>
<rect x="760.30" y="768.07" width="1.4" height="36.90" fill="#b4b4b4"/>
<rect x="1158.50" y="768.07" width="1.4" height="36.90" fill="#b4b4b4"/>
<rect x="1357.40" y="768.07" width="1.4" height="36.90" fill="#b4b4b4"/>
<rect x="1555.60" y="768.07" width="1.4" height="36.90" fill="#b4b4b4"/>
<text x="140.75" y="794.41" font-family="'Liberation Sans', sans-serif" font-size="16" font-weight="bold" fill="#fff" text-anchor="middle" textLength="15.80" lengthAdjust="spacingAndGlyphs">14</text>
<text x="264.40" y="790.46" font-family="'Liberation Sans', sans-serif" font-size="15.1" font-weight="bold" fill="#fff" text-anchor="middle">м. Харків</text>
<text x="464.10" y="792.16" font-family="'Liberation Sans', sans-serif" font-size="13.9" font-weight="bold" fill="#000" text-anchor="middle" word-spacing="1">1,42</text>
<text x="663.00" y="792.16" font-family="'Liberation Sans', sans-serif" font-size="13.9" font-weight="bold" fill="#000" text-anchor="middle" word-spacing="1">63%</text>
<text x="860.80" y="792.16" font-family="'Liberation Sans', sans-serif" font-size="13.9" font-weight="bold" fill="#000" text-anchor="middle" word-spacing="1">79%</text>
<text x="1059.75" y="791.26" font-family="'Liberation Sans', sans-serif" font-size="13.9" font-weight="bold" fill="#000" text-anchor="middle" word-spacing="1">874</text>
<text x="1258.50" y="791.26" font-family="'Liberation Sans', sans-serif" font-size="13.9" font-weight="bold" fill="#000" text-anchor="middle" word-spacing="1">687</text>
<text x="1457.20" y="791.26" font-family="'Liberation Sans', sans-serif" font-size="13.9" font-weight="bold" fill="#000" text-anchor="middle" word-spacing="1">2 731 681</text>
<text x="1655.90" y="792.16" font-family="'Liberation Sans', sans-serif" font-size="13.9" font-weight="bold" fill="#000" text-anchor="middle" word-spacing="1">0,99</text>
<rect x="115.00" y="808.97" width="49.25" height="41.00" rx="13.4" fill="#5800ff"/>
<rect x="166.10" y="808.97" width="197.00" height="41.00" rx="13.4" fill="#5800ff"/>
<rect x="366.60" y="809.97" width="591.90" height="39.00" rx="12.4" fill="#fff" stroke="#a9a9a9" stroke-width="2.0"/>
<rect x="963.95" y="809.97" width="788.95" height="39.00" rx="12.4" fill="#fff" stroke="#a9a9a9" stroke-width="2.0"/>
<rect x="562.30" y="811.17" width="1.4" height="36.90" fill="#b4b4b4"/>
<rect x="760.30" y="811.17" width="1.4" height="36.90" fill="#b4b4b4"/>
<rect x="1158.50" y="811.17" width="1.4" height="36.90" fill="#b4b4b4"/>
<rect x="1357.40" y="811.17" width="1.4" height="36.90" fill="#b4b4b4"/>
<rect x="1555.60" y="811.17" width="1.4" height="36.90" fill="#b4b4b4"/>
<text x="140.25" y="835.82" font-family="'Liberation Sans', sans-serif" font-size="16" font-weight="bold" fill="#fff" text-anchor="middle" textLength="15.80" lengthAdjust="spacingAndGlyphs">15</text>
<text x="264.40" y="833.57" font-family="'Liberation Sans', sans-serif" font-size="15.1" font-weight="bold" fill="#fff" text-anchor="middle">м. Бориспіль</text>
<text x="464.10" y="835.27" font-family="'Liberation Sans', sans-serif" font-size="13.9" font-weight="bold" fill="#000" text-anchor="middle" word-spacing="1">1,41</text>
<text x="663.00" y="835.27" font-family="'Liberation Sans', sans-serif" font-size="13.9" font-weight="bold" fill="#000" text-anchor="middle" word-spacing="1">70%</text>
<text x="860.80" y="835.27" font-family="'Liberation Sans', sans-serif" font-size="13.9" font-weight="bold" fill="#000" text-anchor="middle" word-spacing="1">70%</text>
<text x="1059.75" y="834.37" font-family="'Liberation Sans', sans-serif" font-size="13.9" font-weight="bold" fill="#000" text-anchor="middle" word-spacing="1">225</text>
<text x="1258.50" y="834.37" font-family="'Liberation Sans', sans-serif" font-size="13.9" font-weight="bold" fill="#000" text-anchor="middle" word-spacing="1">158</text>
<text x="1457.20" y="834.37" font-family="'Liberation Sans', sans-serif" font-size="13.9" font-weight="bold" fill="#000" text-anchor="middle" word-spacing="1">976 599</text>
<text x="1655.90" y="835.27" font-family="'Liberation Sans', sans-serif" font-size="13.9" font-weight="bold" fill="#000" text-anchor="middle" word-spacing="1">1,10</text>
<rect x="115.00" y="852.07" width="49.25" height="41.00" rx="13.4" fill="#5800ff"/>
<rect x="166.10" y="852.07" width="197.00" height="41.00" rx="13.4" fill="#5800ff"/>
<rect x="366.60" y="853.07" width="591.90" height="39.00" rx="12.4" fill="#fff" stroke="#a9a9a9" stroke-width="2.0"/>
<rect x="963.95" y="853.07" width="788.95" height="39.00" rx="12.4" fill="#fff" stroke="#a9a9a9" stroke-width="2.0"/>
<rect x="562.30" y="854.27" width="1.4" height="36.90" fill="#b4b4b4"/>
<rect x="760.30" y="854.27" width="1.4" height="36.90" fill="#b4b4b4"/>
<rect x="1158.50" y="854.27" width="1.4" height="36.90" fill="#b4b4b4"/>
<rect x="1357.40" y="854.27" width="1.4" height="36.90" fill="#b4b4b4"/>
<rect x="1555.60" y="854.27" width="1.4" height="36.90" fill="#b4b4b4"/>
<text x="140.75" y="879.62" font-family="'Liberation Sans', sans-serif" font-size="16" font-weight="bold" fill="#fff" text-anchor="middle" textLength="15.80" lengthAdjust="spacingAndGlyphs">16</text>
<text x="264.40" y="876.67" font-family="'Liberation Sans', sans-serif" font-size="15.1" font-weight="bold" fill="#fff" text-anchor="middle">м. Дніпро</text>
<text x="464.10" y="878.37" font-family="'Liberation Sans', sans-serif" font-size="13.9" font-weight="bold" fill="#000" text-anchor="middle" word-spacing="1">1,39</text>
<text x="663.00" y="878.37" font-family="'Liberation Sans', sans-serif" font-size="13.9" font-weight="bold" fill="#000" text-anchor="middle" word-spacing="1">65%</text>
<text x="860.80" y="878.37" font-family="'Liberation Sans', sans-serif" font-size="13.9" font-weight="bold" fill="#000" text-anchor="middle" word-spacing="1">75%</text>
<text x="1059.75" y="877.47" font-family="'Liberation Sans', sans-serif" font-size="13.9" font-weight="bold" fill="#000" text-anchor="middle" word-spacing="1">699</text>
<text x="1258.50" y="877.47" font-family="'Liberation Sans', sans-serif" font-size="13.9" font-weight="bold" fill="#000" text-anchor="middle" word-spacing="1">521</text>
<text x="1457.20" y="877.47" font-family="'Liberation Sans', sans-serif" font-size="13.9" font-weight="bold" fill="#000" text-anchor="middle" word-spacing="1">2 734 476</text>
<text x="1655.90" y="878.37" font-family="'Liberation Sans', sans-serif" font-size="13.9" font-weight="bold" fill="#000" text-anchor="middle" word-spacing="1">1,01</text>
<rect x="115.00" y="895.18" width="49.25" height="41.00" rx="13.4" fill="#5800ff"/>
<rect x="166.10" y="895.18" width="197.00" height="41.00" rx="13.4" fill="#5800ff"/>
<rect x="366.60" y="896.18" width="591.90" height="39.00" rx="12.4" fill="#fff" stroke="#a9a9a9" stroke-width="2.0"/>
<rect x="963.95" y="896.18" width="788.95" height="39.00" rx="12.4" fill="#fff" stroke="#a9a9a9" stroke-width="2.0"/>
<rect x="562.30" y="897.38" width="1.4" height="36.90" fill="#b4b4b4"/>
<rect x="760.30" y="897.38" width="1.4" height="36.90" fill="#b4b4b4"/>
<rect x="1158.50" y="897.38" width="1.4" height="36.90" fill="#b4b4b4"/>
<rect x="1357.40" y="897.38" width="1.4" height="36.90" fill="#b4b4b4"/>
<rect x="1555.60" y="897.38" width="1.4" height="36.90" fill="#b4b4b4"/>
<text x="140.00" y="920.83" font-family="'Liberation Sans', sans-serif" font-size="16" font-weight="bold" fill="#fff" text-anchor="middle" textLength="15.80" lengthAdjust="spacingAndGlyphs">17</text>
<text x="264.40" y="919.78" font-family="'Liberation Sans', sans-serif" font-size="15.1" font-weight="bold" fill="#fff" text-anchor="middle">м. Біла Церква</text>
<text x="464.10" y="921.48" font-family="'Liberation Sans', sans-serif" font-size="13.9" font-weight="bold" fill="#000" text-anchor="middle" word-spacing="1">1,38</text>
<text x="663.00" y="921.48" font-family="'Liberation Sans', sans-serif" font-size="13.9" font-weight="bold" fill="#000" text-anchor="middle" word-spacing="1">59%</text>
<text x="860.80" y="921.48" font-family="'Liberation Sans', sans-serif" font-size="13.9" font-weight="bold" fill="#000" text-anchor="middle" word-spacing="1">79%</text>
<text x="1059.75" y="920.58" font-family="'Liberation Sans', sans-serif" font-size="13.9" font-weight="bold" fill="#000" text-anchor="middle" word-spacing="1">116</text>
<text x="1258.50" y="920.58" font-family="'Liberation Sans', sans-serif" font-size="13.9" font-weight="bold" fill="#000" text-anchor="middle" word-spacing="1">92</text>
<text x="1457.20" y="920.58" font-family="'Liberation Sans', sans-serif" font-size="13.9" font-weight="bold" fill="#000" text-anchor="middle" word-spacing="1">776 040</text>
<text x="1655.90" y="921.48" font-family="'Liberation Sans', sans-serif" font-size="13.9" font-weight="bold" fill="#000" text-anchor="middle" word-spacing="1">0,92</text>
<rect x="115.00" y="938.28" width="49.25" height="41.00" rx="13.4" fill="#5800ff"/>
<rect x="166.10" y="938.28" width="197.00" height="41.00" rx="13.4" fill="#5800ff"/>
<rect x="366.60" y="939.28" width="591.90" height="39.00" rx="12.4" fill="#fff" stroke="#a9a9a9" stroke-width="2.0"/>
<rect x="963.95" y="939.28" width="788.95" height="39.00" rx="12.4" fill="#fff" stroke="#a9a9a9" stroke-width="2.0"/>
<rect x="562.30" y="940.49" width="1.4" height="36.90" fill="#b4b4b4"/>
<rect x="760.30" y="940.49" width="1.4" height="36.90" fill="#b4b4b4"/>
<rect x="1158.50" y="940.49" width="1.4" height="36.90" fill="#b4b4b4"/>
<rect x="1357.40" y="940.49" width="1.4" height="36.90" fill="#b4b4b4"/>
<rect x="1555.60" y="940.49" width="1.4" height="36.90" fill="#b4b4b4"/>
<text x="139.75" y="965.63" font-family="'Liberation Sans', sans-serif" font-size="16" font-weight="bold" fill="#fff" text-anchor="middle" textLength="15.80" lengthAdjust="spacingAndGlyphs">18</text>
<text x="264.40" y="962.88" font-family="'Liberation Sans', sans-serif" font-size="15.1" font-weight="bold" fill="#fff" text-anchor="middle">м. Херсон</text>
<text x="464.10" y="964.58" font-family="'Liberation Sans', sans-serif" font-size="13.9" font-weight="bold" fill="#000" text-anchor="middle" word-spacing="1">1,38</text>
<text x="663.00" y="964.58" font-family="'Liberation Sans', sans-serif" font-size="13.9" font-weight="bold" fill="#000" text-anchor="middle" word-spacing="1">58%</text>
<text x="860.80" y="964.58" font-family="'Liberation Sans', sans-serif" font-size="13.9" font-weight="bold" fill="#000" text-anchor="middle" word-spacing="1">80%</text>
<text x="1059.75" y="963.68" font-family="'Liberation Sans', sans-serif" font-size="13.9" font-weight="bold" fill="#000" text-anchor="middle" word-spacing="1">144</text>
<text x="1258.50" y="963.68" font-family="'Liberation Sans', sans-serif" font-size="13.9" font-weight="bold" fill="#000" text-anchor="middle" word-spacing="1">115</text>
<text x="1457.20" y="963.68" font-family="'Liberation Sans', sans-serif" font-size="13.9" font-weight="bold" fill="#000" text-anchor="middle" word-spacing="1">507 428</text>
<text x="1655.90" y="964.58" font-family="'Liberation Sans', sans-serif" font-size="13.9" font-weight="bold" fill="#000" text-anchor="middle" word-spacing="1">0,90</text>
<rect x="115.00" y="981.39" width="49.25" height="41.00" rx="13.4" fill="#5800ff"/>
<rect x="166.10" y="981.39" width="197.00" height="41.00" rx="13.4" fill="#5800ff"/>
<rect x="366.60" y="982.39" width="591.90" height="39.00" rx="12.4" fill="#fff" stroke="#a9a9a9" stroke-width="2.0"/>
<rect x="963.95" y="982.39" width="788.95" height="39.00" rx="12.4" fill="#fff" stroke="#a9a9a9" stroke-width="2.0"/>
<rect x="562.30" y="983.59" width="1.4" height="36.90" fill="#b4b4b4"/>
<rect x="760.30" y="983.59" width="1.4" height="36.90" fill="#b4b4b4"/>
<rect x="1158.50" y="983.59" width="1.4" height="36.90" fill="#b4b4b4"/>
<rect x="1357.40" y="983.59" width="1.4" height="36.90" fill="#b4b4b4"/>
<rect x="1555.60" y="983.59" width="1.4" height="36.90" fill="#b4b4b4"/>
<text x="139.75" y="1008.14" font-family="'Liberation Sans', sans-serif" font-size="16" font-weight="bold" fill="#fff" text-anchor="middle" textLength="15.80" lengthAdjust="spacingAndGlyphs">19</text>
<text x="264.40" y="1005.99" font-family="'Liberation Sans', sans-serif" font-size="15.1" font-weight="bold" fill="#fff" text-anchor="middle">м. Чернігів</text>
<text x="464.10" y="1007.69" font-family="'Liberation Sans', sans-serif" font-size="13.9" font-weight="bold" fill="#000" text-anchor="middle" word-spacing="1">1,37</text>
<text x="663.00" y="1007.69" font-family="'Liberation Sans', sans-serif" font-size="13.9" font-weight="bold" fill="#000" text-anchor="middle" word-spacing="1">58%</text>
<text x="860.80" y="1007.69" font-family="'Liberation Sans', sans-serif" font-size="13.9" font-weight="bold" fill="#000" text-anchor="middle" word-spacing="1">79%</text>
<text x="1059.75" y="1006.79" font-family="'Liberation Sans', sans-serif" font-size="13.9" font-weight="bold" fill="#000" text-anchor="middle" word-spacing="1">328</text>
<text x="1258.50" y="1006.79" font-family="'Liberation Sans', sans-serif" font-size="13.9" font-weight="bold" fill="#000" text-anchor="middle" word-spacing="1">259</text>
<text x="1457.20" y="1006.79" font-family="'Liberation Sans', sans-serif" font-size="13.9" font-weight="bold" fill="#000" text-anchor="middle" word-spacing="1">776 342</text>
<text x="1655.90" y="1007.69" font-family="'Liberation Sans', sans-serif" font-size="13.9" font-weight="bold" fill="#000" text-anchor="middle" word-spacing="1">0,91</text>
<rect x="115.00" y="1024.49" width="49.25" height="41.00" rx="13.4" fill="#5800ff"/>
<rect x="166.10" y="1024.49" width="197.00" height="41.00" rx="13.4" fill="#5800ff"/>
<rect x="366.60" y="1025.49" width="591.90" height="39.00" rx="12.4" fill="#fff" stroke="#a9a9a9" stroke-width="2.0"/>
<rect x="963.95" y="1025.49" width="788.95" height="39.00" rx="12.4" fill="#fff" stroke="#a9a9a9" stroke-width="2.0"/>
<rect x="562.30" y="1026.69" width="1.4" height="36.90" fill="#b4b4b4"/>
<rect x="760.30" y="1026.69" width="1.4" height="36.90" fill="#b4b4b4"/>
<rect x="1158.50" y="1026.69" width="1.4" height="36.90" fill="#b4b4b4"/>
<rect x="1357.40" y="1026.69" width="1.4" height="36.90" fill="#b4b4b4"/>
<rect x="1555.60" y="1026.69" width="1.4" height="36.90" fill="#b4b4b4"/>
<text x="141.00" y="1050.14" font-family="'Liberation Sans', sans-serif" font-size="16" font-weight="bold" fill="#fff" text-anchor="middle" textLength="15.80" lengthAdjust="spacingAndGlyphs">20</text>
<text x="264.40" y="1049.09" font-family="'Liberation Sans', sans-serif" font-size="15.1" font-weight="bold" fill="#fff" text-anchor="middle">м. Черкаси</text>
<text x="464.10" y="1050.80" font-family="'Liberation Sans', sans-serif" font-size="13.9" font-weight="bold" fill="#000" text-anchor="middle" word-spacing="1">1,37</text>
<text x="663.00" y="1050.80" font-family="'Liberation Sans', sans-serif" font-size="13.9" font-weight="bold" fill="#000" text-anchor="middle" word-spacing="1">63%</text>
<text x="860.80" y="1050.80" font-family="'Liberation Sans', sans-serif" font-size="13.9" font-weight="bold" fill="#000" text-anchor="middle" word-spacing="1">74%</text>
<text x="1059.75" y="1049.89" font-family="'Liberation Sans', sans-serif" font-size="13.9" font-weight="bold" fill="#000" text-anchor="middle" word-spacing="1">223</text>
<text x="1258.50" y="1049.89" font-family="'Liberation Sans', sans-serif" font-size="13.9" font-weight="bold" fill="#000" text-anchor="middle" word-spacing="1">165</text>
<text x="1457.20" y="1049.89" font-family="'Liberation Sans', sans-serif" font-size="13.9" font-weight="bold" fill="#000" text-anchor="middle" word-spacing="1">875 685</text>
<text x="1655.90" y="1050.80" font-family="'Liberation Sans', sans-serif" font-size="13.9" font-weight="bold" fill="#000" text-anchor="middle" word-spacing="1">0,98</text>
</svg></body></html>
